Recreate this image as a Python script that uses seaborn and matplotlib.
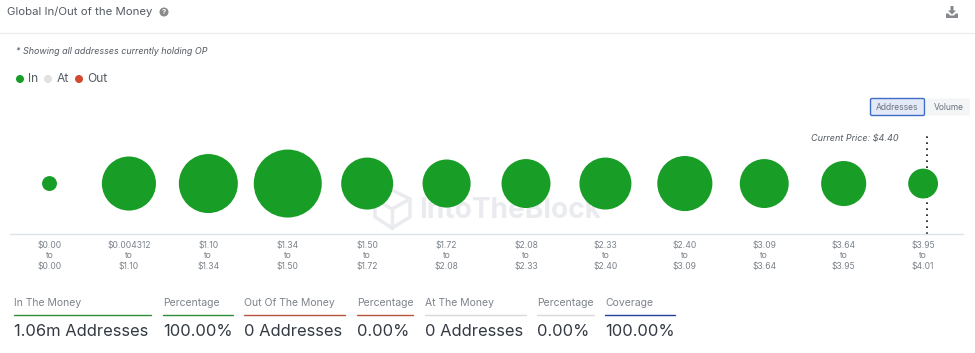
import matplotlib
matplotlib.use("Agg")
import matplotlib.pyplot as plt
from matplotlib.patches import Circle, FancyBboxPatch, Polygon
import pandas as pd
import seaborn as sns

range_low = ["$0.00", "$0.004312", "$1.10", "$1.34", "$1.50", "$1.72",
             "$2.08", "$2.33", "$2.40", "$3.09", "$3.64", "$3.95"]
range_high = ["$0.00", "$1.10", "$1.34", "$1.50", "$1.72", "$2.08",
              "$2.33", "$2.40", "$3.09", "$3.64", "$3.95", "$4.01"]
addresses_k = [8, 105, 125, 166, 97, 83, 86, 97, 109, 86, 73, 32]
stat_labels = ["In The Money", "Percentage", "Out Of The Money", "Percentage",
               "At The Money", "Percentage", "Coverage"]
stat_values = ["1.06m Addresses", "100.00%", "0 Addresses", "0.00%",
               "0 Addresses", "0.00%", "100.00%"]
stat_colors = ["#2e8b3a", "#2e8b3a", "#b5533c", "#b5533c", "#d9d9d9", "#d9d9d9", "#1f3f99"]
stat_left = [14, 163, 244, 357, 425, 537, 605]
stat_right = [151, 233, 345, 413, 526, 594, 675]

GREEN = "#189d27"
sns.set_theme(style="white")
plt.rcParams["font.family"] = ["Inter", "DejaVu Sans"]

W, H = 975, 353
fig = plt.figure(figsize=(W / 100, H / 100), dpi=100, facecolor="white")

# pixel-coordinate overlay for page furniture
pg = fig.add_axes([0, 0, 1, 1], zorder=0)
pg.set_xlim(0, W)
pg.set_ylim(H, 0)
pg.axis("off")

# watermark
wm = "#eaebef"
pg.add_patch(Polygon([(392, 190), (410, 199), (410, 217), (392, 228), (375, 217), (375, 199)],
                     closed=True, fill=False, ec=wm, lw=2.5))
pg.plot([375, 392, 410], [199, 209, 199], color=wm, lw=2.5)
pg.plot([392, 392], [209, 228], color=wm, lw=2.5)
pg.text(419, 210.5, "IntoTheBlock", fontsize=20.2, fontweight="bold", color=wm, va="center", ha="left")

# header
pg.text(7, 11.5, "Global In/Out of the Money", fontsize=8.2, color="#555b63", va="center")
pg.add_patch(Circle((164, 12), 4.5, color="#8a8a8a", lw=0))
pg.text(164, 12, "?", fontsize=5.5, color="white", fontweight="bold", ha="center", va="center")
pg.plot([0, W], [33, 33], color="#ebedf0", lw=1)
# download icon
pg.add_patch(Polygon([(950.5, 6), (953.5, 6), (953.5, 10.5), (956, 10.5), (952, 14.5), (948, 10.5), (950.5, 10.5)],
                     color="#85888c", lw=0))
pg.add_patch(Polygon([(946, 13.5), (948.5, 13.5), (950, 15.5), (954, 15.5), (955.5, 13.5), (958, 13.5), (958, 18), (946, 18)],
                     color="#85888c", lw=0))

pg.text(16, 51, "* Showing all addresses currently holding OP", fontsize=6.45, style="italic",
        color="#555b63", va="center")

# legend
for cx, col, tx, lab in [(20, GREEN, 28, "In"), (48, "#e1e1e1", 57, "At"), (79, "#d2492f", 87, "Out")]:
    pg.add_patch(Circle((cx, 79), 4, color=col, lw=0))
    pg.text(tx, 79, lab, fontsize=8.7, color="#555b63", va="center")

# toggle buttons
pg.add_patch(FancyBboxPatch((926, 98.5), 44, 17, boxstyle="round,pad=0,rounding_size=1.5",
                            fc="#f4f5f7", ec="none"))
pg.add_patch(FancyBboxPatch((870.5, 98.5), 54, 17, boxstyle="round,pad=0,rounding_size=1.5",
                            fc="#e3e9f7", ec="#3f6cc4", lw=1))
pg.text(897.5, 107.5, "Addresses", fontsize=6.1, color="#6b7280", ha="center", va="center")
pg.text(948.5, 107.5, "Volume", fontsize=6.1, color="#6b7280", ha="center", va="center")

pg.text(899, 139, "Current Price: $4.40", fontsize=6.5, style="italic", color="#555b63",
        ha="right", va="center")

# stats row
for lab, val, col, x0, x1 in zip(stat_labels, stat_values, stat_colors, stat_left, stat_right):
    pg.text(x0, 302.5, lab, fontsize=7.5, color="#7d838b", va="center")
    pg.plot([x0, x1], [315, 315], color=col, lw=1)
    pg.text(x0, 332, val, fontsize=11.9, color="#343a42", va="center")

# main bubble chart
ax = fig.add_axes([9.8 / W, 1 - 233.5 / H, 953 / W, 103 / H], zorder=2)
ax.patch.set_alpha(0)
df = pd.DataFrame({"bucket": range(len(addresses_k)), "addresses": addresses_k, "y": [0] * len(addresses_k)})
ax.axvline(11.055, ymax=0.956, color="#111111", lw=1.2, dashes=(1, 2.6), zorder=1)
sns.scatterplot(data=df, x="bucket", y="y", size="addresses",
                sizes=(8 * 14.44, 166 * 14.44), size_norm=(8, 166),
                color=GREEN, linewidth=0, alpha=1, legend=False, ax=ax, zorder=3, clip_on=False)
ax.set_xlim(-0.5, 11.5)
ax.set_ylim(-0.97, 1.03)
ax.set_xlabel("")
ax.set_ylabel("")
ax.set_yticks([])
ax.set_xticks(range(len(range_low)))
ax.set_xticklabels([f"{a}\nto\n{b}" for a, b in zip(range_low, range_high)],
                   fontsize=6.2, color="#7d838b", linespacing=1.17)
ax.tick_params(axis="x", length=0, pad=5.5)
for s in ["top", "left", "right"]:
    ax.spines[s].set_visible(False)
ax.spines["bottom"].set_color("#dbe5ee")
ax.spines["bottom"].set_linewidth(1)

fig.savefig("out.png", dpi=100, facecolor="white")
